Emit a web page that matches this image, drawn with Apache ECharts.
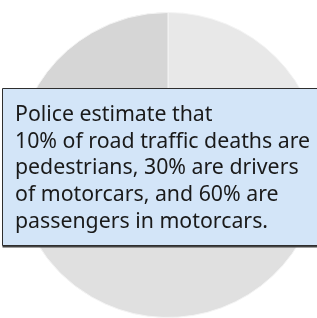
<!DOCTYPE html>
<html>
<head>
<meta charset="utf-8">
<script src="https://cdn.jsdelivr.net/npm/echarts@6/dist/echarts.min.js"></script>
<style>html,body{margin:0;padding:0;background:#fff;}#c{width:317px;height:318px;}</style>
</head>
<body>
<div id="c"></div>
<script>
const categories = ['A', 'B', 'C'];
const values = [1, 1, 1];
const sliceColors = ['#e8e8e8', '#e0e0e0', '#d6d6d6'];
const noteLines = [
  'Police estimate that',
  '10% of road traffic deaths are',
  'pedestrians, 30% are drivers',
  'of motorcars, and 60% are',
  'passengers in motorcars.'
];

const chart = echarts.init(document.getElementById('c'), null, {renderer: 'canvas'});
chart.setOption({
  animation: false,
  backgroundColor: '#ffffff',
  series: [{
    type: 'pie',
    z: 1,
    center: [168, 165],
    radius: [0, 152.5],
    startAngle: 90,
    clockwise: true,
    label: {show: false},
    labelLine: {show: false},
    emphasis: {disabled: true},
    itemStyle: {borderColor: '#f4f4f4', borderWidth: 1},
    data: categories.map((c, i) => ({name: c, value: values[i], itemStyle: {color: sliceColors[i]}}))
  }],
  graphic: [{
    type: 'group',
    z: 100,
    children: [
      {type: 'rect', z: 100, shape: {x: 2.5, y: 90.5, width: 330, height: 157}, style: {fill: '#444', stroke: null}},
      {type: 'rect', z: 101, shape: {x: 2.5, y: 88.5, width: 330, height: 157}, style: {fill: '#d3e5f8', stroke: '#2e2e2e', lineWidth: 1}},
      {type: 'text', z: 102, x: 15, y: 101.5, style: {text: noteLines.join('\n'), font: '21.3px "Noto Sans"', fill: '#1a1a1a', lineHeight: 26.7}}
    ]
  }]
});
</script>
</body>
</html>
